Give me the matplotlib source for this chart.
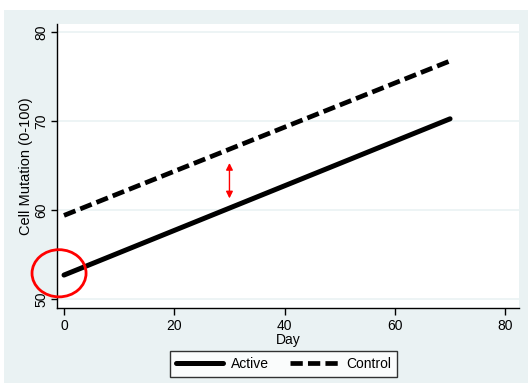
import matplotlib
matplotlib.use("Agg")
import matplotlib.pyplot as plt
from matplotlib.patches import Ellipse, Rectangle


day = [0, 70]
active = [52.7, 70.25]
control = [59.4, 76.75]

xticks = [0, 20, 40, 60, 80]
yticks = [50, 60, 70, 80]

plt.rcParams["font.family"] = ["Liberation Sans", "DejaVu Sans"]
plt.rcParams["font.size"] = 10

bg = "#eaf2f3"

fig = plt.figure(figsize=(5.28, 3.85), dpi=100, facecolor="white")

# light panel behind everything
panel = Rectangle((4 / 528, 2 / 385), 524 / 528, 373 / 385,
                  transform=fig.transFigure, facecolor=bg,
                  edgecolor="none", zorder=-10)
fig.add_artist(panel)

ax = fig.add_axes([57 / 528, 1 - 308 / 385, 462 / 528, 284 / 385])
ax.set_zorder(1)
ax.set_facecolor("white")

ax.plot(day, active, color="black", lw=3.6, solid_capstyle="round",
        label="Active", zorder=3)
ax.plot(day, control, color="black", lw=3.4, dashes=(2.6, 1.1),
        label="Control", zorder=3)

ax.set_xlim(-1.27, 82.5)
ax.set_ylim(49.0, 80.9)
ax.set_xticks(xticks)
ax.set_yticks(yticks)
ax.set_yticklabels([str(v) for v in yticks], rotation=90, va="center")

ax.grid(axis="y", color=bg, lw=1.2)
ax.set_axisbelow(True)

for side in ["top", "right"]:
    ax.spines[side].set_visible(False)
for side in ["left", "bottom"]:
    ax.spines[side].set_color("black")
    ax.spines[side].set_linewidth(1.0)

ax.tick_params(direction="out", length=5, width=1, colors="black",
               labelsize=10, pad=3)
ax.tick_params(axis="y", length=4.5, pad=1.5)

ax.set_xlabel("Day", fontsize=10, labelpad=0)
ax.set_ylabel("Cell Mutation (0-100)", fontsize=10.5, labelpad=1)

# annotations
ax.add_patch(Ellipse((-0.9, 52.9), 9.8, 5.3, fill=False, edgecolor="red",
                     lw=2, clip_on=False, zorder=5))
ax.annotate("", xy=(30, 65.6), xytext=(30, 61.0),
            arrowprops=dict(arrowstyle="<|-|>", color="red", lw=1,
                            mutation_scale=10))

leg = ax.legend(loc="upper center", bbox_to_anchor=(0.49, -0.151), ncol=2,
                frameon=True, fancybox=False, fontsize=10,
                handlelength=3.4, columnspacing=1.5, borderpad=0.45,
                handletextpad=0.6, borderaxespad=0)
leg.get_frame().set_edgecolor("black")
leg.get_frame().set_linewidth(1.0)

fig.savefig("out.png", dpi=100, facecolor="white")
